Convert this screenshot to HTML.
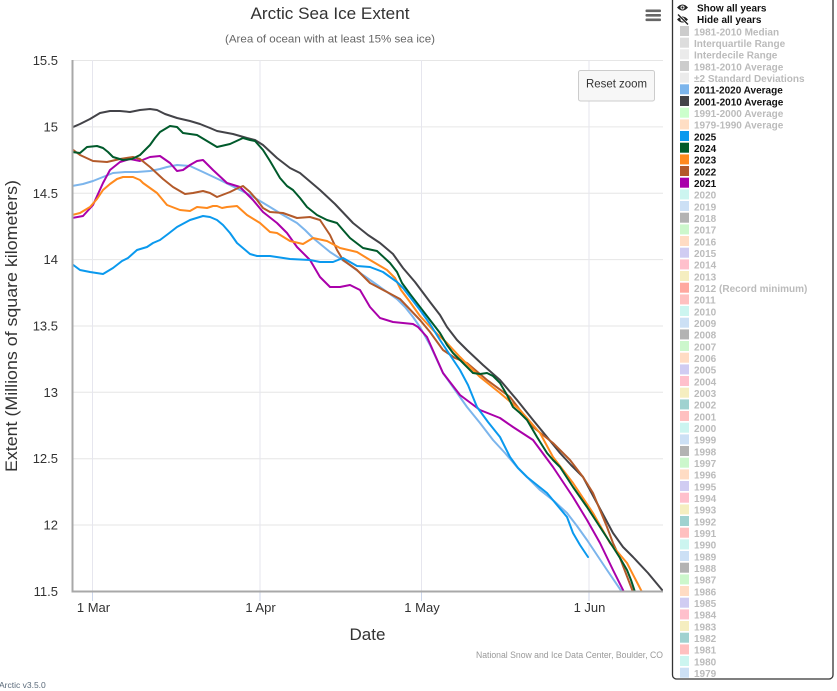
<!DOCTYPE html>
<html><head><meta charset="utf-8"><style>
html,body{margin:0;padding:0;background:#fff;width:837px;height:691px;overflow:hidden}
svg{display:block}
text{font-family:"Liberation Sans",sans-serif}
</style></head><body>
<svg width="837" height="691" viewBox="0 0 837 691" xmlns="http://www.w3.org/2000/svg">
<rect width="837" height="691" fill="#fff"/>
<!-- title -->
<text x="330" y="19" font-size="17" fill="#333" text-anchor="middle" textLength="159" lengthAdjust="spacingAndGlyphs">Arctic Sea Ice Extent</text>
<text x="330" y="42.5" font-size="11" fill="#666" text-anchor="middle" textLength="210" lengthAdjust="spacingAndGlyphs">(Area of ocean with at least 15% sea ice)</text>
<!-- hamburger -->
<g fill="#666"><rect x="645.5" y="9.5" width="15.5" height="2.6" rx="1"/><rect x="645.5" y="14" width="15.5" height="2.6" rx="1"/><rect x="645.5" y="18.5" width="15.5" height="2.6" rx="1"/></g>
<!-- grid -->
<g stroke="#e6e6e6" stroke-width="1">
<line x1="72" y1="60.5" x2="663" y2="60.5"/>
<line x1="72" y1="126.9" x2="663" y2="126.9"/>
<line x1="72" y1="193.2" x2="663" y2="193.2"/>
<line x1="72" y1="259.6" x2="663" y2="259.6"/>
<line x1="72" y1="326" x2="663" y2="326"/>
<line x1="72" y1="392.3" x2="663" y2="392.3"/>
<line x1="72" y1="458.7" x2="663" y2="458.7"/>
<line x1="72" y1="525" x2="663" y2="525"/>
</g>
<g stroke="#e6e6ee" stroke-width="1">
<line x1="92.5" y1="60" x2="92.5" y2="591"/>
<line x1="260" y1="60" x2="260" y2="591"/>
<line x1="421.5" y1="60" x2="421.5" y2="591"/>
<line x1="589" y1="60" x2="589" y2="591"/>
</g>
<g stroke="#ccd6eb" stroke-width="1">
<line x1="92.5" y1="591" x2="92.5" y2="601"/>
<line x1="260" y1="591" x2="260" y2="601"/>
<line x1="421.5" y1="591" x2="421.5" y2="601"/>
<line x1="589" y1="591" x2="589" y2="601"/>
</g>
<!-- reset zoom -->
<rect x="578.5" y="70.5" width="76" height="30.5" rx="2" fill="#f7f7f7" stroke="#cccccc" stroke-width="1"/>
<text x="616.5" y="87.5" font-size="11.5" fill="#333" text-anchor="middle" textLength="61" lengthAdjust="spacingAndGlyphs">Reset zoom</text>
<defs><clipPath id="pc"><rect x="72" y="60" width="591" height="531"/></clipPath></defs>
<g clip-path="url(#pc)" fill="none" stroke-width="2" stroke-linejoin="round" stroke-linecap="round">
<!-- 2011-2020 avg -->
<polyline stroke="#7cb5ec" points="72,186 83,184 93,181 103,177 113,173 125,172 137,172 150,171 160,169 167,167 177,165 190,166 203,172 220,180 230,185 240,190 250,195 260,201 270,207 283,215 297,223 305,230 313,238 330,252 347,263 363,275 380,287 397,299 405,307 413,317 420,327 430,345 443,373 455,390 467,407 480,423 493,440 505,453 517,467 528,478 540,490 554,501 567,513 577,526 587,540 597,555 607,570 622,592"/>
<!-- 2001-2010 avg -->
<polyline stroke="#434348" points="72,127.5 80,124 90,119 100,113 110,111 120,111 130,112 140,110 150,109 157,110 165,114 177,118 190,121 200,124 210,128 217,131 233,134 247,138 255,140 263,145 277,158 290,168 300,173 320,190 335,204 353,223 368,235 380,243 393,254 403,268 415,282 430,302 440,315 447,327 457,340 467,350 483,365 500,380 517,400 533,420 547,437 560,453 571,465 583,477 598,505 613,533 623,547 633,557 648,573 663,591"/>
<!-- 2021 -->
<polyline stroke="#aa00aa" points="72,218 83,216 93,205 103,183 110,170 120,162 130,159 140,161 150,157 160,156 170,163 177,171 183,170 190,165 197,161 203,160 213,170 227,183 240,187 253,200 263,212 277,223 287,233 297,247 310,260 320,277 330,287 340,287 350,285 360,290 370,307 380,318 393,322 413,324 418,327 427,337 435,355 443,373 460,395 480,410 500,418 513,427 533,440 553,467 573,497 587,520 600,543 613,570 624,592"/>
<!-- 2022 -->
<polyline stroke="#b35a2a" points="72,149 80,155 93,161 107,162 120,159 133,157 140,159 150,167 163,179 173,187 185,194 193,193 203,191 210,193 217,197 230,192 238,188 243,186 250,192 257,200 263,208 270,212 283,213 297,218 310,217 320,220 330,235 337,250 343,260 357,270 370,283 387,292 400,299 420,320 430,332 443,350 455,358 467,363 487,380 510,397 533,427 553,443 570,460 583,477 593,493 600,510 607,527 613,543 620,558 633,592"/>
<!-- 2023 -->
<polyline stroke="#ff8a1e" points="72,215 80,213 90,207 97,199 103,190 110,184 117,179 123,177 133,177 140,180 143,183 150,188 157,193 167,205 180,210 190,211 197,207 207,208 213,206 217,206 222,208 227,207 237,206 247,215 260,223 270,232 277,233 290,241 303,244 313,238 327,241 340,248 357,252 370,260 387,270 395,278 401,290 410,302 420,316 433,330 447,343 460,357 480,377 500,393 520,410 540,433 553,457 573,483 593,513 610,543 627,563 642,592"/>
<!-- 2024 -->
<polyline stroke="#005a2b" points="72,152 80,153 87,147 97,146 103,148 108,152 113,157 123,160 132,159 140,155 145,150 150,145 155,138 160,132 170,126 177,127 183,133 190,134 197,135 207,141 217,147 230,144 243,138 250,140 255,141 263,150 270,161 280,178 287,186 293,190 300,198 307,207 317,215 327,220 337,223 343,230 350,238 363,248 377,251 390,263 397,272 402,283 410,294 420,307 430,320 440,333 447,345 453,353 463,363 473,373 480,374 487,373 493,376 500,383 507,395 513,407 520,413 527,420 537,437 547,453 553,460 560,467 573,487 587,507 600,527 613,547 620,558 627,570 631,580 635,592"/>
<!-- 2025 -->
<polyline stroke="#0a99ee" points="72,264 80,270 90,272 103,274 113,268 122,261 128,258 137,250 147,247 153,243 160,240 168,234 177,227 190,220 203,216 210,217 217,220 223,225 230,233 237,243 250,254 257,256 270,256 290,259 310,260 320,262 333,262 343,258 350,262 357,266 370,267 383,272 397,282 403,288 410,297 420,310 430,324 440,340 450,355 460,370 468,385 477,407 488,422 500,437 510,457 518,468 527,477 537,485 547,493 557,505 567,517 573,533 580,545 588,557"/>
</g>
<!-- axes -->
<line x1="72.5" y1="60" x2="72.5" y2="592" stroke="#a8a8a8" stroke-width="2"/>
<line x1="71.5" y1="591.5" x2="663" y2="591.5" stroke="#a8a8a8" stroke-width="2"/>
<!-- y labels -->
<g font-size="13" fill="#333" text-anchor="end">
<text x="58" y="65">15.5</text>
<text x="58" y="131.5">15</text>
<text x="58" y="197.8">14.5</text>
<text x="58" y="264">14</text>
<text x="58" y="330.5">13.5</text>
<text x="58" y="397">13</text>
<text x="58" y="463">12.5</text>
<text x="58" y="529.5">12</text>
<text x="58" y="596">11.5</text>
</g>
<!-- x labels -->
<g font-size="13" fill="#333" text-anchor="middle">
<text x="93.5" y="612">1 Mar</text>
<text x="260.5" y="612">1 Apr</text>
<text x="422" y="612">1 May</text>
<text x="589.5" y="612">1 Jun</text>
</g>
<text x="367.5" y="640" font-size="17" fill="#333" text-anchor="middle">Date</text>
<text transform="translate(17,326) rotate(-90)" font-size="17" fill="#333" text-anchor="middle" textLength="292" lengthAdjust="spacingAndGlyphs">Extent (Millions of square kilometers)</text>
<text x="663" y="658" font-size="9" fill="#999" text-anchor="end" textLength="187" lengthAdjust="spacingAndGlyphs">National Snow and Ice Data Center, Boulder, CO</text>
<text x="-1" y="688" font-size="8.5" fill="#5a6a7a">Arctic v3.5.0</text>
<!-- legend -->
<rect x="672.5" y="-6" width="160.5" height="685" rx="4" fill="#fff" stroke="#333" stroke-width="1.3"/>
<!-- eye icons -->
<g fill="#222">
<path d="M677,7.5 Q682.5,1.5 688,7.5 Q682.5,13.5 677,7.5 Z"/>
<circle cx="682.5" cy="7.5" r="2" fill="#fff"/>
<circle cx="682.5" cy="7.5" r="1.1"/>
<path d="M677,19.5 Q682.5,13.5 688,19.5 Q682.5,25.5 677,19.5 Z"/>
<circle cx="682.5" cy="19.5" r="2" fill="#fff"/>
<line x1="678" y1="14.5" x2="688" y2="24.5" stroke="#fff" stroke-width="2.5"/>
<line x1="678" y1="14.5" x2="688" y2="24.5" stroke="#222" stroke-width="1.3"/>
</g>
<g font-size="10" font-weight="bold">
<text x="697" y="11.5" fill="#111">Show all years</text>
<text x="697" y="23" fill="#111">Hide all years</text>
</g>
<g font-size="10" font-weight="bold" fill="#bbbbbb">
<rect x="680" y="26" width="9" height="10" fill="#cccccc"/><text x="694" y="35.3">1981-2010 Median</text>
<rect x="680" y="37.7" width="9" height="10" fill="#dddddd"/><text x="694" y="47">Interquartile Range</text>
<rect x="680" y="49.3" width="9" height="10" fill="#ebebeb"/><text x="694" y="58.6">Interdecile Range</text>
<rect x="680" y="61" width="9" height="10" fill="#cccccc"/><text x="694" y="70.3">1981-2010 Average</text>
<rect x="680" y="72.7" width="9" height="10" fill="#ebebeb"/><text x="694" y="82">±2 Standard Deviations</text>
<rect x="680" y="84.3" width="9" height="10" fill="#7cb5ec"/><text x="694" y="93.6" fill="#111">2011-2020 Average</text>
<rect x="680" y="96" width="9" height="10" fill="#434348"/><text x="694" y="105.3" fill="#111">2001-2010 Average</text>
<rect x="680" y="107.7" width="9" height="10" fill="#ccffcc"/><text x="694" y="117">1991-2000 Average</text>
<rect x="680" y="119.4" width="9" height="10" fill="#ffdec4"/><text x="694" y="128.7">1979-1990 Average</text>
<rect x="680" y="131" width="9" height="10" fill="#0a99ee"/><text x="694" y="140.3" fill="#111">2025</text>
<rect x="680" y="142.7" width="9" height="10" fill="#005a2b"/><text x="694" y="152" fill="#111">2024</text>
<rect x="680" y="154.4" width="9" height="10" fill="#ff8a1e"/><text x="694" y="163.7" fill="#111">2023</text>
<rect x="680" y="166" width="9" height="10" fill="#b35a2a"/><text x="694" y="175.3" fill="#111">2022</text>
<rect x="680" y="177.7" width="9" height="10" fill="#aa00aa"/><text x="694" y="187" fill="#111">2021</text>
<rect x="680" y="189.4" width="9" height="10" fill="#ccf5f0"/><text x="694" y="198.7">2020</text>
<rect x="680" y="201" width="9" height="10" fill="#cce0f5"/><text x="694" y="210.3">2019</text>
<rect x="680" y="212.7" width="9" height="10" fill="#b3b3b3"/><text x="694" y="222">2018</text>
<rect x="680" y="224.4" width="9" height="10" fill="#ccf7cc"/><text x="694" y="233.7">2017</text>
<rect x="680" y="236" width="9" height="10" fill="#ffdcc4"/><text x="694" y="245.3">2016</text>
<rect x="680" y="247.7" width="9" height="10" fill="#d0ccf2"/><text x="694" y="257">2015</text>
<rect x="680" y="259.4" width="9" height="10" fill="#ffc0cc"/><text x="694" y="268.7">2014</text>
<rect x="680" y="271" width="9" height="10" fill="#f5eec0"/><text x="694" y="280.3">2013</text>
<rect x="680" y="282.7" width="9" height="10" fill="#ffa8a0"/><text x="694" y="292">2012 (Record minimum)</text>
<rect x="680" y="294.4" width="9" height="10" fill="#ffc0c0"/><text x="694" y="303.7">2011</text>
<rect x="680" y="306" width="9" height="10" fill="#ccf5f0"/><text x="694" y="315.3">2010</text>
<rect x="680" y="317.7" width="9" height="10" fill="#cce0f5"/><text x="694" y="327">2009</text>
<rect x="680" y="329.4" width="9" height="10" fill="#b3b3b3"/><text x="694" y="338.7">2008</text>
<rect x="680" y="341" width="9" height="10" fill="#ccf7cc"/><text x="694" y="350.3">2007</text>
<rect x="680" y="352.7" width="9" height="10" fill="#ffdcc4"/><text x="694" y="362">2006</text>
<rect x="680" y="364.4" width="9" height="10" fill="#d0ccf2"/><text x="694" y="373.7">2005</text>
<rect x="680" y="376" width="9" height="10" fill="#ffc0cc"/><text x="694" y="385.3">2004</text>
<rect x="680" y="387.7" width="9" height="10" fill="#f5eec0"/><text x="694" y="397">2003</text>
<rect x="680" y="399.4" width="9" height="10" fill="#a0d2d0"/><text x="694" y="408.7">2002</text>
<rect x="680" y="411" width="9" height="10" fill="#ffc0c0"/><text x="694" y="420.3">2001</text>
<rect x="680" y="422.7" width="9" height="10" fill="#ccf5f0"/><text x="694" y="432">2000</text>
<rect x="680" y="434.4" width="9" height="10" fill="#cce0f5"/><text x="694" y="443.7">1999</text>
<rect x="680" y="446" width="9" height="10" fill="#b3b3b3"/><text x="694" y="455.3">1998</text>
<rect x="680" y="457.7" width="9" height="10" fill="#ccf7cc"/><text x="694" y="467">1997</text>
<rect x="680" y="469.4" width="9" height="10" fill="#ffdcc4"/><text x="694" y="478.7">1996</text>
<rect x="680" y="481" width="9" height="10" fill="#d0ccf2"/><text x="694" y="490.3">1995</text>
<rect x="680" y="492.7" width="9" height="10" fill="#ffc0cc"/><text x="694" y="502">1994</text>
<rect x="680" y="504.4" width="9" height="10" fill="#f5eec0"/><text x="694" y="513.7">1993</text>
<rect x="680" y="516" width="9" height="10" fill="#a0d2d0"/><text x="694" y="525.3">1992</text>
<rect x="680" y="527.7" width="9" height="10" fill="#ffc0c0"/><text x="694" y="537">1991</text>
<rect x="680" y="539.4" width="9" height="10" fill="#ccf5f0"/><text x="694" y="548.7">1990</text>
<rect x="680" y="551" width="9" height="10" fill="#cce0f5"/><text x="694" y="560.3">1989</text>
<rect x="680" y="562.7" width="9" height="10" fill="#b3b3b3"/><text x="694" y="572">1988</text>
<rect x="680" y="574.4" width="9" height="10" fill="#ccf7cc"/><text x="694" y="583.7">1987</text>
<rect x="680" y="586" width="9" height="10" fill="#ffdcc4"/><text x="694" y="595.3">1986</text>
<rect x="680" y="597.7" width="9" height="10" fill="#d0ccf2"/><text x="694" y="607">1985</text>
<rect x="680" y="609.4" width="9" height="10" fill="#ffc0cc"/><text x="694" y="618.7">1984</text>
<rect x="680" y="621" width="9" height="10" fill="#f5eec0"/><text x="694" y="630.3">1983</text>
<rect x="680" y="632.7" width="9" height="10" fill="#a0d2d0"/><text x="694" y="642">1982</text>
<rect x="680" y="644.4" width="9" height="10" fill="#ffc0c0"/><text x="694" y="653.7">1981</text>
<rect x="680" y="656" width="9" height="10" fill="#ccf5f0"/><text x="694" y="665.3">1980</text>
<rect x="680" y="667.7" width="9" height="10" fill="#cce0f5"/><text x="694" y="677">1979</text>
</g>
</svg>
</body></html>
